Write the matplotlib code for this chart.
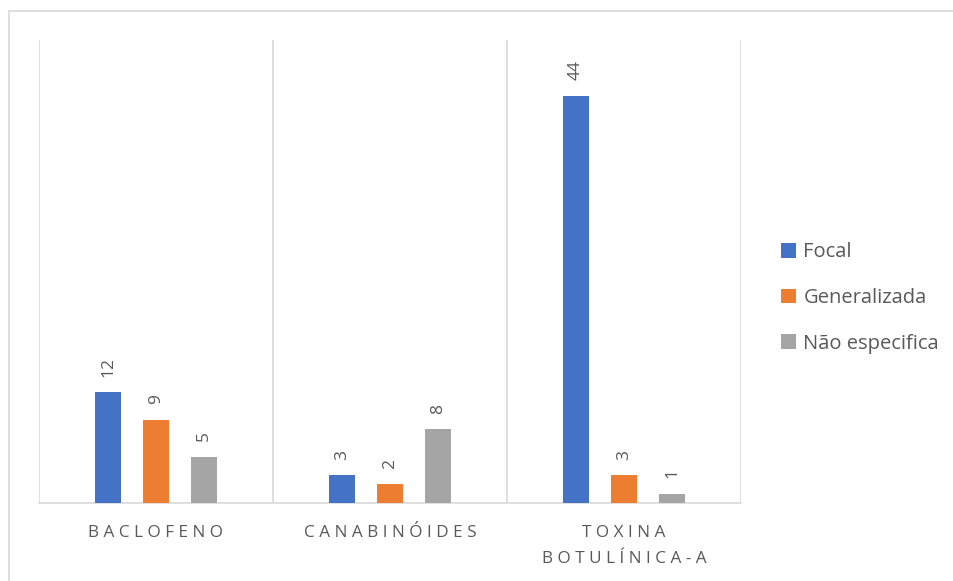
import matplotlib.pyplot as plt
from matplotlib.patches import Rectangle
import numpy as np

categories = ["BACLOFENO", "CANABINÓIDES", "TOXINA\nBOTULÍNICA-A"]
series_names = ["Focal", "Generalizada", "Não especifica"]
focal = [12, 3, 44]
generalizada = [9, 2, 3]
nao_especifica = [5, 8, 1]
colors = ["#4472C4", "#ED7D31", "#A5A5A5"]

plt.rcParams['font.family'] = ['Open Sans', 'DejaVu Sans']
text_gray = "#595959"
grid_gray = "#d9d9d9"


def spaced(label):
    # mimic the character spacing of the category labels
    return "\n".join(" ".join(line) for line in label.split("\n"))


fig = plt.figure(figsize=(9.54, 5.81), dpi=100)
ax = fig.add_axes([39 / 954, 1 - 503 / 581, (741 - 39) / 954, (503 - 40) / 581])

# light outer border of the chart area
fig.patches.append(Rectangle((9 / 954, -0.01), 1.0, 1 - 11 / 581 + 0.01,
                             transform=fig.transFigure, fill=False,
                             edgecolor=grid_gray, linewidth=1.2))

x = np.arange(len(categories))
width = 0.111
step = 0.205
all_values = [focal, generalizada, nao_especifica]

for i, (name, vals, col) in enumerate(zip(series_names, all_values, colors)):
    pos = x + (i - 1) * step
    bars = ax.bar(pos, vals, width, color=col, label=name, zorder=3)
    for b, v in zip(bars, vals):
        ax.annotate(str(v), (b.get_x() + b.get_width() / 2, v),
                    xytext=(0, 11), textcoords="offset points",
                    rotation=90, ha="center", va="bottom",
                    fontsize=12.5, color=text_gray)

# vertical dividers between categories
for xv in np.arange(-0.5, len(categories), 1.0):
    ax.axvline(xv, color=grid_gray, linewidth=1.2, zorder=1)

ax.set_xlim(-0.5, len(categories) - 0.5)
ax.set_ylim(0, 50)
ax.set_xticks(x)
ax.set_xticklabels([spaced(c) for c in categories], fontsize=12.3,
                   color=text_gray, linespacing=1.8)
ax.tick_params(axis="x", length=0, pad=16)
ax.set_yticks([])
for s in ["top", "left", "right"]:
    ax.spines[s].set_visible(False)
ax.spines["bottom"].set_color(grid_gray)
ax.spines["bottom"].set_linewidth(1.2)

leg = ax.legend(loc="center left", bbox_to_anchor=(763 / 954, 1 - 298 / 581),
                bbox_transform=fig.transFigure, frameon=False,
                fontsize=14.5, labelspacing=1.28, handlelength=0.75,
                handleheight=0.75, handletextpad=0.35)
for t in leg.get_texts():
    t.set_color(text_gray)

plt.savefig("out.png", dpi=100)
